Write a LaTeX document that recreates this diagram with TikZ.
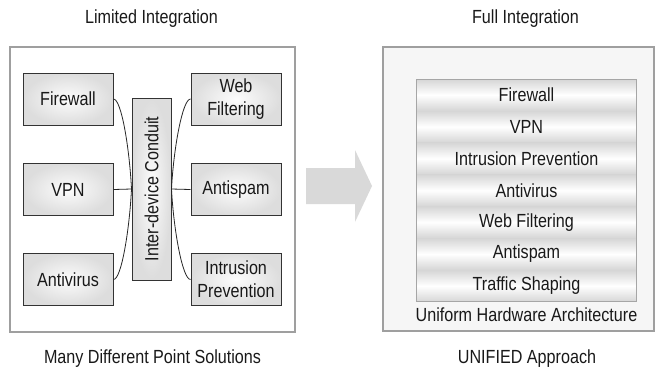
\documentclass[tikz,border=0pt]{standalone}
\usepackage{fontspec}
\setmainfont[FakeStretch=0.85]{Liberation Sans}
\usetikzlibrary{positioning}
\newcommand{\lbl}{\fontsize{19}{23}\selectfont}
\tikzset{
	panel/.style={draw=gray!75, line width=1.2pt},
	unitbox/.style={draw=black!80, line width=1pt, inner color=gray!2, outer color=gray!27,
		minimum width=90pt, minimum height=52pt, align=center, inner sep=0pt, font=\lbl, text=black!90},
	layer/.style={top color=gray!32, bottom color=gray!32, middle color=white,
		minimum width=219pt, minimum height=31.43pt, inner sep=0pt, font=\lbl, text=black!90},
	link/.style={draw=black!85, line width=0.8pt},
	caption/.style={font=\lbl, text=black!90}
}

\begin{document}
\begin{tikzpicture}[x=1pt, y=1pt]
	\useasboundingbox (0,0) rectangle (655,-368);

	% point solutions
	\draw[panel, fill=white] (10,-47) rectangle (295,-332);
	\node (lim) [caption] at (151.5,-19) {Limited Integration};
	\node (many) [caption] at (152.5,-359) {Many Different Point Solutions};

	\node (fw) [unitbox] at (68,-99) {Firewall};
	\node (vpn) [unitbox] at (68,-189.5) {VPN};
	\node (av) [unitbox] at (68,-279.5) {Antivirus};

	\node (cd) [unitbox, minimum width=39pt, minimum height=182pt] at (151.5,-189) {\rotatebox{90}{Inter-device Conduit}};

	\node (wf) [unitbox] at (236,-99) {Web\\Filtering};
	\node (as) [unitbox] at (236,-189.5) {Antispam};
	\node (ip) [unitbox] at (236,-279.5) {Intrusion\\Prevention};

	\draw[link] (fw.east) .. controls +(8,0) and +(-2,40) .. (cd.west);
	\draw[link] (vpn.east) -- (cd.west);
	\draw[link] (av.east) .. controls +(8,0) and +(-2,-40) .. (cd.west);
	\draw[link] (cd.east) .. controls +(2,40) and +(-8,0) .. (wf.west);
	\draw[link] (cd.east) -- (as.west);
	\draw[link] (cd.east) .. controls +(2,-40) and +(-8,0) .. (ip.west);

	% big arrow
	\fill[gray!30] (306,-168) -- (355,-168) -- (355,-150) -- (372,-186) -- (355,-222) -- (355,-204) -- (306,-204) -- cycle;

	% unified box
	\draw[panel, fill=gray!7] (383,-47) rectangle (654,-331);
	\node (full) [caption] at (525.5,-19) {Full Integration};
	\node (uni) [caption] at (527,-359) {UNIFIED Approach};

	\node (l1) [layer, anchor=north] at (526.5,-79) {Firewall};
	\node (l2) [layer, below=0pt of l1] {VPN};
	\node (l3) [layer, below=0pt of l2] {Intrusion Prevention};
	\node (l4) [layer, below=0pt of l3] {Antivirus};
	\node (l5) [layer, below=0pt of l4] {Web Filtering};
	\node (l6) [layer, below=0pt of l5] {Antispam};
	\node (l7) [layer, below=0pt of l6] {Traffic Shaping};
	\draw[draw=gray!70, line width=0.8pt] (l1.north west) rectangle (l7.south east);

	\node (hw) [caption, below=2pt of l7] {Uniform Hardware Architecture};
\end{tikzpicture}
\end{document}
